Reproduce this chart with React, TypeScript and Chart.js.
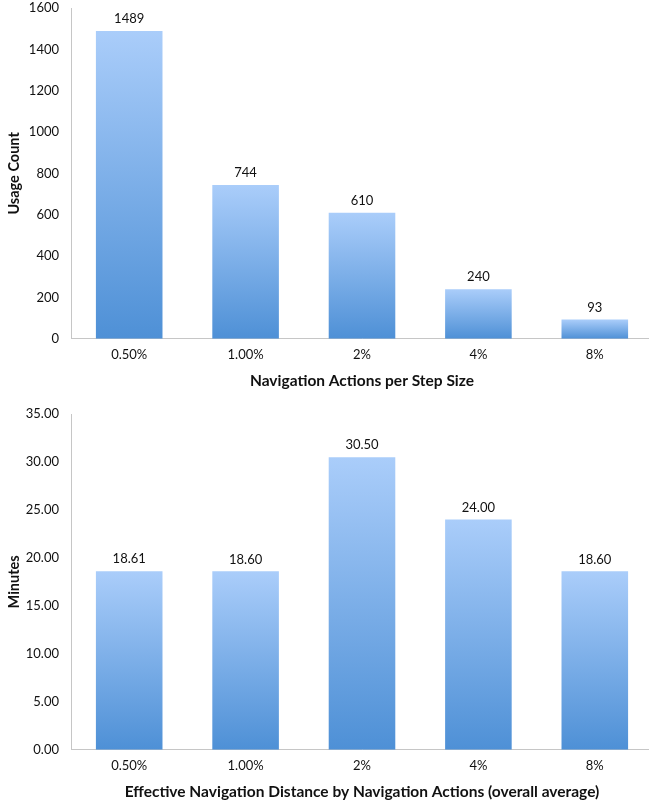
import React, { useEffect, useRef } from 'react';
import { Chart, registerables } from 'chart.js';

Chart.register(...registerables);

const categories = ['0.50%', '1.00%', '2%', '4%', '8%'];
const usageCounts = [1489, 744, 610, 240, 93];
const usageLabels = ['1489', '744', '610', '240', '93'];
const minutesValues = [18.61, 18.6, 30.5, 24.0, 18.6];
const minutesLabels = ['18.61', '18.60', '30.50', '24.00', '18.60'];

const FONT = 'Lato, "Open Sans", sans-serif';
const TOP_COLOR = '#aacdfa';
const BOTTOM_COLOR = '#4e90d6';
const AXIS_COLOR = '#c6c6c6';

function gradientFill(ctx: any) {
  const chart = ctx.chart;
  const y = chart.scales?.y;
  if (!y || ctx.type !== 'data') return '#7fb0ea';
  const v = ctx.raw as number;
  const top = y.getPixelForValue(v);
  const bottom = y.getPixelForValue(0);
  if (!isFinite(top) || !isFinite(bottom) || Math.abs(bottom - top) < 1) return '#7fb0ea';
  const g = chart.ctx.createLinearGradient(0, top, 0, bottom);
  g.addColorStop(0, TOP_COLOR);
  g.addColorStop(1, BOTTOM_COLOR);
  return g;
}

const valueLabelPlugin = {
  id: 'valueLabels',
  afterDatasetsDraw(chart: any, _args: any, opts: any) {
    const labels: string[] = opts.labels || [];
    const meta = chart.getDatasetMeta(0);
    const c = chart.ctx;
    c.save();
    c.font = `13px ${FONT}`;
    c.fillStyle = '#111';
    c.textAlign = 'center';
    c.textBaseline = 'middle';
    meta.data.forEach((el: any, i: number) => {
      c.fillText(labels[i], el.x, el.y - 12);
    });
    c.restore();
  },
};

type Cfg = {
  values: number[];
  labels: string[];
  max: number;
  step: number;
  decimals: number;
  yTitle: string;
  xTitle: string;
  height: number;
  padTop: number;
};

function BarChart({ values, labels, max, step, decimals, yTitle, xTitle, height, padTop }: Cfg) {
  const ref = useRef<HTMLCanvasElement | null>(null);
  useEffect(() => {
    if (!ref.current) return;
    const chart = new Chart(ref.current, {
      type: 'bar',
      data: {
        labels: categories,
        datasets: [
          {
            data: values,
            backgroundColor: gradientFill as any,
            borderWidth: 0,
            categoryPercentage: 1,
            barPercentage: 0.572,
          },
        ],
      },
      options: {
        responsive: false,
        animation: false,
        devicePixelRatio: 1,
        layout: { padding: { top: padTop, left: 0, right: 0, bottom: 0 } },
        plugins: {
          legend: { display: false },
          tooltip: { enabled: false },
          valueLabels: { labels },
        } as any,
        scales: {
          x: {
            grid: { display: false, drawTicks: false },
            border: { display: true, color: AXIS_COLOR, width: 1 },
            ticks: { color: '#111', font: { family: FONT, size: 13 }, padding: 8 },
            title: {
              display: true,
              text: xTitle,
              color: '#111',
              font: { family: FONT, size: 15.5, weight: 'bold' },
              padding: { top: 1, bottom: 4 },
            },
          },
          y: {
            min: 0,
            max,
            grid: { display: false, drawTicks: false },
            border: { display: true, color: AXIS_COLOR, width: 1 },
            ticks: {
              stepSize: step,
              color: '#111',
              font: { family: FONT, size: 13 },
              padding: 12,
              callback: (v: any) => Number(v).toFixed(decimals),
            },
            title: {
              display: true,
              text: yTitle,
              color: '#111',
              font: { family: FONT, size: 14.5, weight: 'bold' },
              padding: { top: 6, bottom: 0 },
            },
            afterFit: (scale: any) => {
              scale.width = 71;
              scale.paddingTop = 0;
              scale.paddingBottom = 0;
            },
          },
        },
      },
      plugins: [valueLabelPlugin],
    });
    return () => chart.destroy();
  }, []);
  return <canvas ref={ref} width={653} height={height} style={{ display: 'block' }} />;
}

export default function App() {
  useEffect(() => {
    document.body.style.margin = '0';
    document.body.style.background = '#fff';
  }, []);
  return (
    <div style={{ width: 649, height: 805, overflow: 'hidden', background: '#fff' }}>
      <div style={{ height: 400 }}>
        <BarChart
          values={usageCounts}
          labels={usageLabels}
          max={1600}
          step={200}
          decimals={0}
          yTitle="Usage Count"
          xTitle="Navigation Actions per Step Size"
          height={394}
          padTop={8}
        />
      </div>
      <BarChart
        values={minutesValues}
        labels={minutesLabels}
        max={35}
        step={5}
        decimals={2}
        yTitle="Minutes"
        xTitle="Effective Navigation Distance by Navigation Actions (overall average)"
        height={405}
        padTop={14}
      />
    </div>
  );
}
